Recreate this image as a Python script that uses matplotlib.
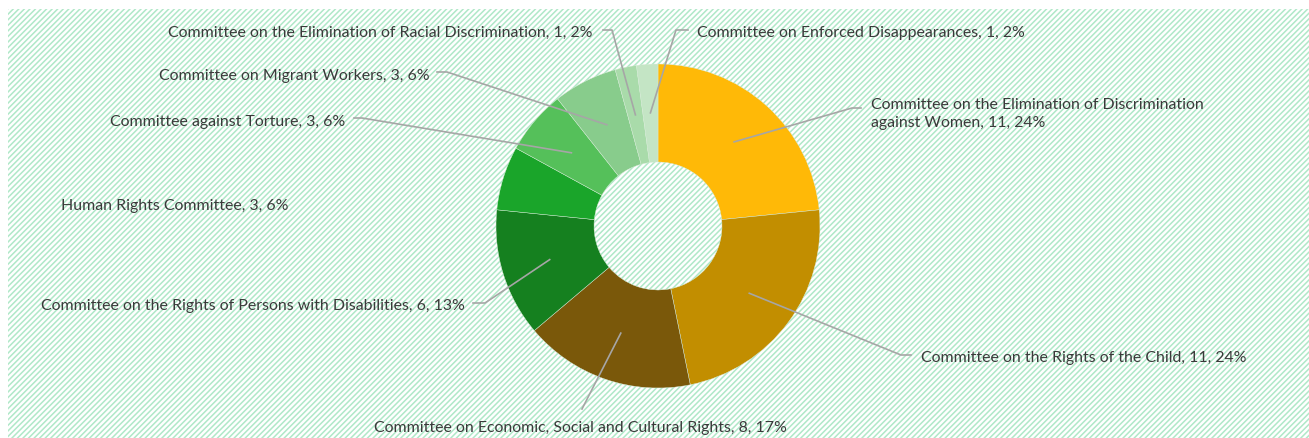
import numpy as np
import matplotlib.pyplot as plt
from matplotlib.patches import Rectangle

plt.rcParams['font.family'] = ['Lato', 'DejaVu Sans']
plt.rcParams['hatch.linewidth'] = 1.1

# datos del grafico
comites = ['Committee on the Elimination of Discrimination\nagainst Women',
           'Committee on the Rights of the Child',
           'Committee on Economic, Social and Cultural Rights',
           'Committee on the Rights of Persons with Disabilities',
           'Human Rights Committee',
           'Committee against Torture',
           'Committee on Migrant Workers',
           'Committee on the Elimination of Racial Discrimination',
           'Committee on Enforced Disappearances']
valores = [11, 11, 8, 6, 3, 3, 3, 1, 1]
porcentajes = [24, 24, 17, 13, 6, 6, 6, 2, 2]
colores = ['#FFB907', '#C28E00', '#7A580A', '#15801F', '#1AA52A',
           '#55C05A', '#88CC8C', '#A9DBAA', '#C4E5C5']

W, H = 1309, 439
fig = plt.figure(figsize=(W / 100, H / 100), dpi=100)
ax = fig.add_axes([0, 0, 1, 1])


def py(y):
    # pasar coordenada de pixel (desde arriba) a datos
    return H - y


# fondo rayado
fondo = Rectangle((8, 0), W - 8, py(10), facecolor='white', edgecolor='#b0e8c8',
                  hatch='//////', linewidth=0, zorder=0)
ax.add_patch(fondo)

cx, cy, radio = 658, py(227), 162
wedges, _ = ax.pie(valores, colors=colores, startangle=90, counterclock=False,
                   center=(cx, cy), radius=radio, frame=True,
                   wedgeprops=dict(width=radio * 0.605, linewidth=0.3, edgecolor='#d8ecd8'))
ax.set_xlim(0, W)
ax.set_ylim(0, H)
ax.set_aspect('equal')
ax.axis('off')

# posiciones de etiquetas: (x texto, y texto, ha, va, codo, fin de linea)
etiquetas = [
    (871, 114, 'left', 'center', (852, 109), (861, 109)),
    (921, 358, 'left', 'center', (901, 356), (911, 356)),
    (580, 428, 'center', 'center', None, (582, 410)),
    (465, 306, 'right', 'center', (485, 304), (473, 304)),
    (61, 206, 'left', 'center', None, None),
    (345, 122, 'right', 'center', (362, 119), (354, 119)),
    (430, 76, 'right', 'center', (447, 73), (437, 73)),
    (592, 33, 'right', 'center', (612, 31), (603, 31)),
    (697, 33, 'left', 'center', (676, 31), (688, 31)),
]

gris = '#a6a6a6'
for w, nombre, v, p, (tx, ty, ha, va, codo, fin) in zip(wedges, comites, valores, porcentajes, etiquetas):
    ang = np.deg2rad((w.theta1 + w.theta2) / 2)
    ax_x = cx + 0.7 * radio * np.cos(ang)
    ax_y = cy + 0.7 * radio * np.sin(ang)
    if fin is not None:
        xs = [ax_x]
        ys = [ax_y]
        if codo is not None:
            xs.append(codo[0])
            ys.append(py(codo[1]))
        xs.append(fin[0])
        ys.append(py(fin[1]))
        ax.plot(xs, ys, color=gris, linewidth=1.2, zorder=5)
    ax.text(tx, py(ty), f'{nombre}, {v}, {p}%', ha=ha, va=va, fontsize=11.4,
            color='#3a3a3a', linespacing=1.35, zorder=6)

plt.savefig('out.png', dpi=100)
